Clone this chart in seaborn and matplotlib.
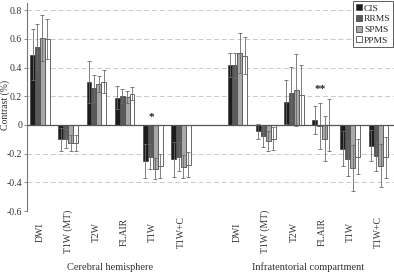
#!/usr/bin/env python3
"""Grouped bar chart of contrast (%) per MRI sequence, cerebral vs infratentorial."""

import numpy as np
import pandas as pd
import matplotlib
matplotlib.use("Agg")
import matplotlib.pyplot as plt
import seaborn as sns

groups = ["CIS", "RRMS", "SPMS", "PPMS"]
sequences = ["DWI", "T1W (MT)", "T2W", "FLAIR", "T1W", "T1W+C"]
regions = ["Cerebral hemisphere", "Infratentorial compartment"]

# Cerebral hemisphere: mean and error per group (order of sequences)
cer_cis = [0.49, -0.10, 0.30, 0.19, -0.25, -0.24]
cer_rrms = [0.545, -0.095, 0.255, 0.20, -0.22, -0.22]
cer_spms = [0.605, -0.125, 0.285, 0.197, -0.305, -0.29]
cer_ppms = [0.60, -0.125, 0.30, 0.218, -0.285, -0.277]
cer_cis_err = [0.18, 0.08, 0.145, 0.08, 0.12, 0.12]
cer_rrms_err = [0.16, 0.065, 0.095, 0.05, 0.085, 0.10]
cer_spms_err = [0.16, 0.055, 0.055, 0.043, 0.075, 0.08]
cer_ppms_err = [0.14, 0.055, 0.08, 0.047, 0.085, 0.085]

# Infratentorial compartment
inf_cis = [0.418, -0.045, 0.162, 0.037, -0.166, -0.144]
inf_rrms = [0.415, -0.08, 0.22, -0.008, -0.235, -0.219]
inf_spms = [0.50, -0.11, 0.245, -0.097, -0.30, -0.284]
inf_ppms = [0.482, -0.097, 0.21, 0.0, -0.22, -0.226]
inf_cis_err = [0.087, 0.052, 0.153, 0.097, 0.121, 0.11]
inf_rrms_err = [0.09, 0.076, 0.185, 0.16, 0.122, 0.10]
inf_spms_err = [0.14, 0.07, 0.25, 0.157, 0.16, 0.15]
inf_ppms_err = [0.128, 0.08, 0.208, 0.18, 0.125, 0.145]

# significance markers: (region, sequence, label, y)
stars = [("Cerebral hemisphere", "T1W", "*", 0.02),
         ("Infratentorial compartment", "FLAIR", "**", 0.215)]

colors = ["#1c1c1c", "#5a5a5a", "#a8a8a8", "#ffffff"]


def build_frame():
    means = {
        "Cerebral hemisphere": [cer_cis, cer_rrms, cer_spms, cer_ppms],
        "Infratentorial compartment": [inf_cis, inf_rrms, inf_spms, inf_ppms],
    }
    errs = {
        "Cerebral hemisphere": [cer_cis_err, cer_rrms_err, cer_spms_err, cer_ppms_err],
        "Infratentorial compartment": [inf_cis_err, inf_rrms_err, inf_spms_err, inf_ppms_err],
    }
    rows = []
    for reg in regions:
        for g, m_list, e_list in zip(groups, means[reg], errs[reg]):
            for s, m, e in zip(sequences, m_list, e_list):
                rows.append({"key": f"{reg}|{s}", "region": reg, "sequence": s,
                             "group": g, "value": m, "err": e})
    return pd.DataFrame(rows)


df = build_frame()
order = [f"{regions[0]}|{s}" for s in sequences] + ["gap"] + \
        [f"{regions[1]}|{s}" for s in sequences]

sns.set_style("white")
plt.rcParams["font.family"] = ["Liberation Serif", "DejaVu Serif"]

fig = plt.figure(figsize=(3.94, 2.76), dpi=100)
ax = fig.add_axes([0.0685, 0.2355, 0.9315, 0.7535])

for y in np.arange(-0.6, 0.81, 0.2):
    if abs(y) > 1e-6:
        ax.axhline(y, color="#c8c8c8", lw=0.7, ls=(0, (5, 3)), zorder=0)

sns.barplot(data=df, x="key", y="value", hue="group", order=order,
            hue_order=groups, palette=colors, errorbar=None, width=0.7,
            edgecolor="#505050", linewidth=0.6, legend=True, ax=ax, zorder=2)

# error bars, matched to each drawn bar by its slot and hue
for g, cont in zip(groups, ax.containers):
    sub = df[df["group"] == g].set_index("key")
    for bar in cont:
        xc = bar.get_x() + bar.get_width() / 2
        key = order[int(round(xc))]
        if key not in sub.index:
            continue
        m, e = sub.loc[key, "value"], sub.loc[key, "err"]
        ax.errorbar(xc, m, yerr=e, fmt="none", ecolor="#6a6a6a",
                    elinewidth=0.6, capsize=1.3, capthick=0.6, zorder=3)

ax.axhline(0, color="#555555", lw=0.9, zorder=4)

for reg, seq, lab, yv in stars:
    ax.text(order.index(f"{reg}|{seq}") - 0.05, yv, lab, ha="center", va="bottom",
            fontsize=8, fontweight="bold", color="#222222")

ax.set_xlim(-0.46, 12.55)
ax.set_ylim(-0.6, 0.85)
ax.set_yticks(np.round(np.arange(-0.6, 0.81, 0.2), 1))
ax.set_yticklabels(["-0.6", "-0.4", "-0.2", "0", "0.2", "0.4", "0.6", "0.8"],
                   fontsize=7, color="#333333")
ax.tick_params(axis="y", length=2, width=0.6, color="#777777", pad=1.5, left=True)

ax.set_xticks(range(len(order)))
ax.set_xticklabels([k.split("|")[-1] if k != "gap" else "" for k in order],
                   rotation=90, va="center", fontsize=7, color="#333333")
ax.tick_params(axis="x", length=0, pad=15)

for sp in ["top", "right", "bottom"]:
    ax.spines[sp].set_visible(False)
ax.spines["left"].set_color("#777777")
ax.spines["left"].set_linewidth(0.8)

ax.set_xlabel("")
ax.set_ylabel("")
fig.text(0.014, 0.62, "Contrast (%)", rotation=90, ha="center", va="center",
         fontsize=7, color="#333333")

for i, reg in enumerate(regions):
    ax.text(2.5 + 7 * i, -0.27, reg, transform=ax.get_xaxis_transform(),
            ha="center", va="center", fontsize=7.5, color="#333333")

handles, labels = ax.get_legend_handles_labels()
leg = ax.legend(handles, labels, loc="upper right", bbox_to_anchor=(0.998, 0.995),
                bbox_transform=fig.transFigure, fontsize=6.8, frameon=True,
                handlelength=0.6, handleheight=0.6, handletextpad=0.2,
                labelspacing=0.25, borderpad=0.3, borderaxespad=0, fancybox=False)
leg.get_frame().set_edgecolor("#333333")
leg.get_frame().set_linewidth(0.7)

fig.savefig("out.png", dpi=100, facecolor="white")
